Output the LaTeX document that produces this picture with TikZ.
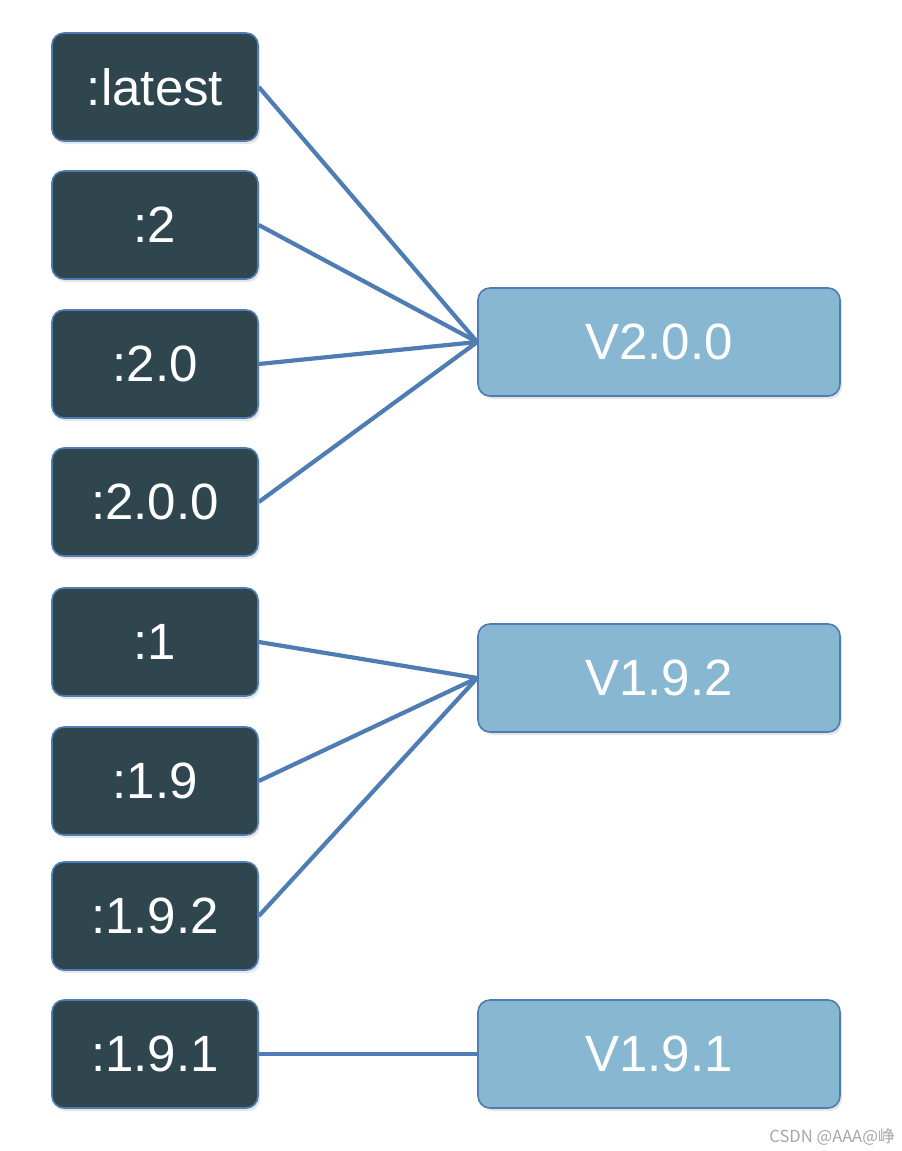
\documentclass[tikz,border=0pt]{standalone}
\usepackage{fontspec}
\setmainfont{Liberation Sans}
\newfontfamily\cjkfont{Noto Sans CJK SC}
\usetikzlibrary{shadows}
\definecolor{tagfill}{HTML}{30464F}
\definecolor{verfill}{HTML}{88B7D1}
\definecolor{linkblue}{HTML}{4F7CB3}

\begin{document}
\begin{tikzpicture}[x=0.5pt, y=-0.5pt,
    every node/.style={text=white, font=\fontsize{25.5}{30}\selectfont},
    tagbox/.style={draw=linkblue, line width=0.8pt, fill=tagfill, rounded corners=6pt,
      minimum width=103pt, minimum height=54pt,
      drop shadow={shadow xshift=1pt, shadow yshift=-1.5pt, opacity=0.2}},
    verbox/.style={tagbox, fill=verfill, minimum width=181pt},
    link/.style={draw=linkblue, line width=2.1pt}]
      \useasboundingbox (0,0) rectangle (901,1151);
      \node at (155,87)[tagbox] (t1){:latest};
      \node at (155,225)[tagbox] (t2){:2};
      \node at (155,364)[tagbox] (t3){:2.0};
      \node at (155,502)[tagbox] (t4){:2.0.0};
      \node at (155,642)[tagbox] (t5){:1};
      \node at (155,781)[tagbox] (t6){:1.9};
      \node at (155,916)[tagbox] (t7){:1.9.2};
      \node at (155,1054)[tagbox] (t8){:1.9.1};
      \node at (659,342)[verbox] (v1){V2.0.0};
      \node at (659,678)[verbox] (v2){V1.9.2};
      \node at (659,1054)[verbox] (v3){V1.9.1};
      \node at (832,1137)[text=black!35, font=\cjkfont\fontsize{8.3}{9}\selectfont] (wm){CSDN @AAA@峥};
      \draw[link] (t1.east) -- (v1.west);
      \draw[link] (t2.east) -- (v1.west);
      \draw[link] (t3.east) -- (v1.west);
      \draw[link] (t4.east) -- (v1.west);
      \draw[link] (t5.east) -- (v2.west);
      \draw[link] (t6.east) -- (v2.west);
      \draw[link] (t7.east) -- (v2.west);
      \draw[link] (t8.east) -- (v3.west);
      \end{tikzpicture}
\end{document}
